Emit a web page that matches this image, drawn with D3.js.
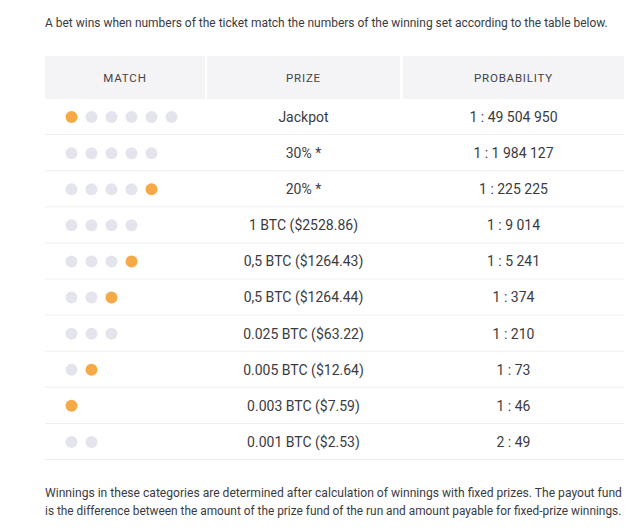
<!DOCTYPE html>
<html>
<head>
<meta charset="utf-8">
<script src="https://cdnjs.cloudflare.com/ajax/libs/d3/7.8.5/d3.min.js"></script>
<style>
  body { margin: 0; background: #fff; }
  svg { font-family: Roboto, "Open Sans", sans-serif; }
</style>
</head>
<body>
<svg id="table" width="640" height="529"></svg>
<script>
// table content, row by row
const headers = ['MATCH', 'PRIZE', 'PROBABILITY'];
// dot patterns: 'o' = bonus ball (orange), 'g' = main number (gray)
const patterns = ['oggggg', 'ggggg', 'ggggo', 'gggg', 'gggo', 'ggo', 'ggg', 'go', 'o', 'gg'];
const prizes = ['Jackpot', '30% *', '20% *', '1 BTC ($2528.86)', '0,5 BTC ($1264.43)',
  '0,5 BTC ($1264.44)', '0.025 BTC ($63.22)', '0.005 BTC ($12.64)', '0.003 BTC ($7.59)', '0.001 BTC ($2.53)'];
const odds = ['1 : 49 504 950', '1 : 1 984 127', '1 : 225 225', '1 : 9 014', '1 : 5 241',
  '1 : 374', '1 : 210', '1 : 73', '1 : 46', '2 : 49'];
const intro = 'A bet wins when numbers of the ticket match the numbers of the winning set according to the table below.';
const footer = [
  'Winnings in these categories are determined after calculation of winnings with fixed prizes. The payout fund',
  'is the difference between the amount of the prize fund of the run and amount payable for fixed-prize winnings.'
];

const svg = d3.select('#table');
const left = 45, right = 624;
const colEdges = [[45, 205], [207, 400], [403, 624]];
const textColor = '#3b3b3f';

// shrink font so a line fits the width it has in the reference
function fitWidth(sel, width) {
  sel.each(function() {
    const fs = +this.getAttribute('font-size');
    const w = this.getComputedTextLength();
    if (w > 0) this.setAttribute('font-size', (fs * width / w).toFixed(2));
  });
}

svg.append('text')
  .attr('x', left)
  .attr('y', 26.5)
  .attr('font-size', 13)
  .attr('fill', textColor)
  .text(intro)
  .call(fitWidth, 563);

// header
const head = svg.append('g');
head.selectAll('rect')
  .data(colEdges)
  .enter().append('rect')
  .attr('x', d => d[0])
  .attr('y', 56)
  .attr('width', d => d[1] - d[0])
  .attr('height', 43)
  .attr('fill', '#f4f3f6');

head.selectAll('text')
  .data(headers)
  .enter().append('text')
  .attr('x', (d, i) => (colEdges[i][0] + colEdges[i][1]) / 2)
  .attr('y', 78)
  .attr('dy', '0.35em')
  .attr('text-anchor', 'middle')
  .attr('font-size', 11.5)
  .attr('letter-spacing', 0.8)
  .attr('fill', '#444')
  .text(d => d);

// rows
const y = d3.scaleBand()
  .domain(d3.range(prizes.length))
  .range([99, 460]);

const dotX = d3.scaleLinear()
  .domain([0, 1])
  .range([71.5, 91.5]);

const rows = svg.selectAll('.row')
  .data(prizes)
  .enter().append('g')
  .attr('class', 'row')
  .attr('transform', (d, i) => `translate(0, ${y(i)})`);

rows.append('line')
  .attr('x1', left)
  .attr('x2', right)
  .attr('y1', y.bandwidth() - 0.5)
  .attr('y2', y.bandwidth() - 0.5)
  .attr('stroke', '#efeff2');

rows.selectAll('circle')
  .data((d, i) => patterns[i].split(''))
  .enter().append('circle')
  .attr('cx', (d, i) => dotX(i))
  .attr('cy', y.bandwidth() / 2)
  .attr('r', 6)
  .attr('fill', d => d === 'o' ? '#f5a947' : '#e4e5ec');

rows.append('text')
  .attr('x', (colEdges[1][0] + colEdges[1][1]) / 2)
  .attr('y', y.bandwidth() / 2)
  .attr('dy', '0.35em')
  .attr('text-anchor', 'middle')
  .attr('font-size', 14)
  .attr('fill', textColor)
  .text(d => d);

rows.append('text')
  .attr('x', (colEdges[2][0] + colEdges[2][1]) / 2)
  .attr('y', y.bandwidth() / 2)
  .attr('dy', '0.35em')
  .attr('text-anchor', 'middle')
  .attr('font-size', 14)
  .attr('fill', textColor)
  .text((d, i) => odds[i]);

svg.selectAll('.foot')
  .data(footer)
  .enter().append('text')
  .attr('class', 'foot')
  .attr('x', left)
  .attr('y', (d, i) => 496.5 + i * 18)
  .attr('font-size', 12.5)
  .attr('fill', textColor)
  .text(d => d)
  .call(fitWidth, 577);
</script>
</body>
</html>
